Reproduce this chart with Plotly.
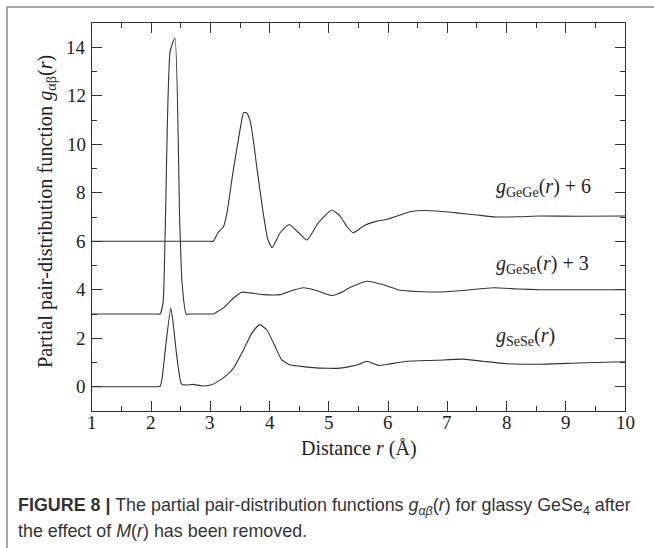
import plotly.graph_objects as go

# ---- data ----
r_gege = [1.0, 2.0, 2.9, 3.0, 3.05, 3.13, 3.22, 3.28, 3.38, 3.5, 3.56, 3.61, 3.67, 3.73, 3.78, 3.89,
          3.97, 4.04, 4.18, 4.33, 4.49, 4.63, 4.82, 5.05, 5.19, 5.3, 5.41, 5.6, 5.81, 5.98, 6.2,
          6.37, 6.65, 7.16, 7.5, 7.83, 8.2, 8.57, 9.2, 10.0]
g_gege = [0.0, 0.0, 0.0, 0.0, 0.0, 0.36, 0.6, 1.18, 2.84, 4.6, 5.3, 5.3, 4.96, 4.07, 3.1, 1.18,
          0.07, -0.26, 0.36, 0.69, 0.35, 0.05, 0.76, 1.29, 1.04, 0.62, 0.35, 0.65, 0.83, 0.9, 1.08,
          1.22, 1.27, 1.17, 1.08, 1.0, 1.01, 1.04, 1.03, 1.04]

r_gese = [1.0, 2.0, 2.1, 2.15, 2.2, 2.24, 2.32, 2.40, 2.48, 2.52, 2.59, 2.65, 2.9, 3.0, 3.05, 3.1,
          3.22, 3.39, 3.53, 3.67, 3.89, 4.18, 4.34, 4.57, 4.79, 5.05, 5.25, 5.36, 5.64, 5.92, 6.2,
          6.5, 6.88, 7.3, 7.78, 8.2, 8.57, 9.2, 10.0]
g_gese = [0.0, 0.0, 0.0, 0.0, 0.47, 3.9, 10.84, 11.38, 3.9, 1.3, 0.0, 0.0, 0.0, 0.0, 0.0, 0.07,
          0.25, 0.66, 0.9, 0.87, 0.8, 0.8, 0.94, 1.08, 0.97, 0.76, 0.94, 1.1, 1.35, 1.21, 0.98,
          0.93, 0.91, 0.98, 1.08, 1.03, 1.0, 1.0, 1.0]

r_sese = [1.0, 2.0, 2.1, 2.15, 2.18, 2.25, 2.33, 2.37, 2.42, 2.47, 2.51, 2.6, 2.7, 2.87, 3.0, 3.08,
          3.25, 3.39, 3.56, 3.7, 3.83, 3.95, 4.09, 4.2, 4.34, 4.5, 4.68, 5.0, 5.19, 5.36, 5.5,
          5.64, 5.84, 6.0, 6.32, 6.8, 7.27, 7.6, 8.0, 8.57, 9.2, 10.0]
g_sese = [0.0, 0.0, 0.0, 0.02, 0.29, 1.8, 3.25, 2.64, 1.5, 0.57, 0.12, 0.07, 0.1, 0.03, 0.07, 0.15,
          0.43, 0.77, 1.53, 2.21, 2.56, 2.35, 1.67, 1.12, 0.91, 0.85, 0.8, 0.76, 0.77, 0.84, 0.92,
          1.05, 0.88, 0.93, 1.05, 1.09, 1.14, 1.05, 0.95, 0.93, 0.98, 1.03]

offsets = {"GeGe": 6, "GeSe": 3, "SeSe": 0}
x_ticks = [1, 2, 3, 4, 5, 6, 7, 8, 9, 10]
y_ticks = [0, 2, 4, 6, 8, 10, 12, 14]

SERIF = "Liberation Serif"
LINE = "#333333"
TXT = "#222222"

fig = go.Figure()
for r, g, key in [(r_gege, g_gege, "GeGe"), (r_gese, g_gese, "GeSe"), (r_sese, g_sese, "SeSe")]:
    fig.add_trace(go.Scatter(
        x=r, y=[v + offsets[key] for v in g], mode="lines",
        line=dict(color=LINE, width=1.1, shape="spline", smoothing=0.5),
        showlegend=False, hoverinfo="skip"))

axis_common = dict(
    showgrid=False, zeroline=False, showline=True, linecolor=LINE, linewidth=1.2,
    mirror="allticks", ticks="inside", ticklen=10, tickwidth=1.2, tickcolor=LINE,
    showticklabels=False,
)

W, H = 654, 548
L, R, T, B = 92, 29, 23, 137
pw, ph = W - L - R, H - T - B
def px(xp): return (xp - L) / pw
def py(yp): return (H - B - yp) / ph

ann = []
# tick labels (placed at the axes' own data positions)
for t in x_ticks:
    ann.append(dict(x=t, xref="x", y=py(423), yref="paper", text=str(t), showarrow=False,
                    xanchor="center", yanchor="middle",
                    font=dict(family=SERIF, size=19, color=TXT)))
for t in y_ticks:
    ann.append(dict(x=px(88), xref="paper", y=t, yref="y", text=str(t), showarrow=False,
                    xanchor="right", yanchor="middle",
                    font=dict(family=SERIF, size=19, color=TXT)))

labels = [("<i>g</i><sub>GeGe</sub>(<i>r</i>) + 6", 8.22),
          ("<i>g</i><sub>GeSe</sub>(<i>r</i>) + 3", 5.04),
          ("<i>g</i><sub>SeSe</sub>(<i>r</i>)", 2.07)]
for txt, yv in labels:
    ann.append(dict(x=7.79, y=yv, xref="x", yref="y", text=txt, showarrow=False,
                    xanchor="left", yanchor="middle",
                    font=dict(family=SERIF, size=20, color=TXT)))

ann.append(dict(x=px(359), y=py(448), xref="paper", yref="paper",
                text="Distance <i>r</i> (Å)", showarrow=False, xanchor="center", yanchor="middle",
                font=dict(family=SERIF, size=20, color=TXT)))
ann.append(dict(x=px(46), y=py(212), xref="paper", yref="paper", textangle=-90,
                text="Partial pair-distribution function <i>g</i><sub>αβ</sub>(<i>r</i>)",
                showarrow=False, xanchor="center", yanchor="middle",
                font=dict(family=SERIF, size=20.3, color=TXT)))
CAP = "Liberation Sans"
ann.append(dict(x=px(16), y=py(506), xref="paper", yref="paper", xanchor="left", yanchor="middle",
                text="<b>FIGURE 8 |</b> The partial pair-distribution functions <i>g</i><sub><i>αβ</i></sub>(<i>r</i>) for glassy GeSe<sub>4</sub> after",
                showarrow=False, font=dict(family=CAP, size=17.9, color="#333")))
ann.append(dict(x=px(16), y=py(531), xref="paper", yref="paper", xanchor="left", yanchor="middle",
                text="the effect of <i>M</i>(<i>r</i>) has been removed.",
                showarrow=False, font=dict(family=CAP, size=17.9, color="#333")))

shapes = [
    dict(type="line", xref="paper", yref="paper", x0=px(7), x1=px(7), y0=py(7), y1=py(548),
         line=dict(color="#888", width=1.5)),
    dict(type="line", xref="paper", yref="paper", x0=px(7), x1=px(654), y0=py(7), y1=py(7),
         line=dict(color="#888", width=1.5)),
]

fig.update_layout(
    width=W, height=H, margin=dict(l=L, r=R, t=T, b=B, autoexpand=False),
    paper_bgcolor="white", plot_bgcolor="white",
    font=dict(family=SERIF, size=19, color=TXT),
    xaxis=dict(range=[1, 10], tickvals=x_ticks, tickmode="array",
               minor=dict(ticks="inside", ticklen=5, tickwidth=1.2, tickcolor=LINE, dtick=0.5),
               **axis_common),
    yaxis=dict(range=[-1, 15], tickvals=y_ticks, tickmode="array",
               minor=dict(ticks="inside", ticklen=5, tickwidth=1.2, tickcolor=LINE, dtick=1),
               **axis_common),
    annotations=ann, shapes=shapes,
)
fig.write_html("out.html")
